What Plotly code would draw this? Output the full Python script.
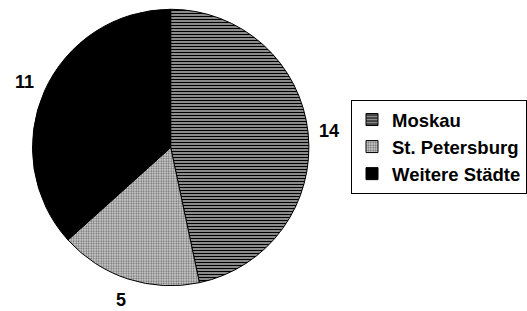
import math
import plotly.graph_objects as go

# Data
labels = ["Moskau", "St. Petersburg", "Weitere Städte"]
values = [14, 5, 11]

W, H = 527, 311
dom_x = [32.5 / W, 309.5 / W]
dom_y = [1 - 286 / H, 1 - 9 / H]

patterns = dict(
    shape=["-", ".", ""],
    fgcolor=["#000000", "#6a6a6a", "#000000"],
    bgcolor=["#a8a8a8", "#d8d8d8", "#000000"],
    size=[3, 2.5, 3],
    solidity=[0.45, 0.45, 0.5],
    fillmode="replace",
)

fig = go.Figure(
    go.Pie(
        labels=labels,
        values=values,
        sort=False,
        direction="clockwise",
        rotation=0,
        textinfo="none",
        hoverinfo="label+value",
        marker=dict(
            colors=["#a8a8a8", "#d8d8d8", "#000000"],
            line=dict(color="#000000", width=1),
            pattern=patterns,
        ),
        domain=dict(x=dom_x, y=dom_y),
    )
)

# value labels placed outside each slice, at the slice's mid angle
cx = (dom_x[0] + dom_x[1]) / 2 * W
cy = (1 - (dom_y[0] + dom_y[1]) / 2) * H
r = (dom_x[1] - dom_x[0]) * W / 2
R = r * 1.155
total = sum(values)
cum = 0
annotations = []
for v in values:
    mid = (cum + v / 2) / total * 2 * math.pi
    cum += v
    px = cx + R * math.sin(mid)
    py = cy - R * math.cos(mid)
    annotations.append(
        dict(
            x=px / W, y=1 - py / H, xref="paper", yref="paper",
            text=f"<b>{v}</b>", showarrow=False,
            xanchor="center", yanchor="middle",
            font=dict(family="Liberation Sans, Arial", size=18, color="#000000"),
        )
    )

fig.update_layout(
    width=W,
    height=H,
    margin=dict(l=0, r=0, t=0, b=0),
    paper_bgcolor="#ffffff",
    plot_bgcolor="#ffffff",
    font=dict(family="Liberation Sans, Arial", size=18, color="#000000"),
    showlegend=True,
    legend=dict(
        x=352 / W, y=1 - 100 / H, xanchor="left", yanchor="top",
        bordercolor="#000000", borderwidth=1, bgcolor="#ffffff",
        font=dict(family="Liberation Sans, Arial", size=18.5, color="#000000", weight="bold"),
        itemwidth=30,
    ),
    annotations=annotations,
)

fig.write_html(
    "out.html",
    config={"displayModeBar": False},
    post_script="document.body.style.margin='0px';document.body.style.overflow='hidden';",
)
